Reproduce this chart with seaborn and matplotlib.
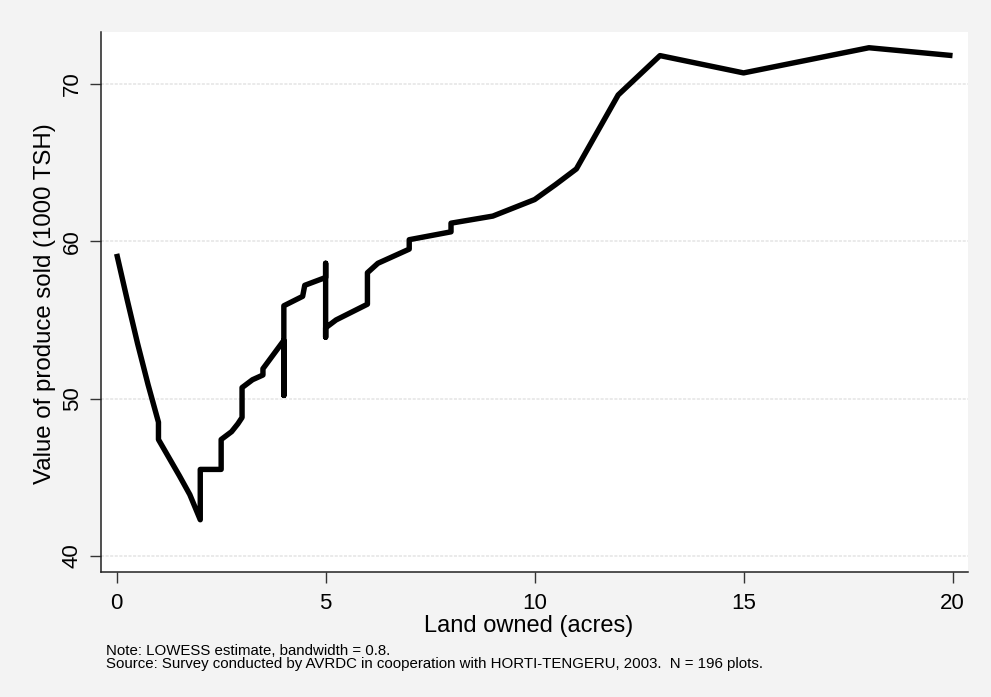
import pandas as pd
import matplotlib
matplotlib.use('Agg')
import matplotlib.pyplot as plt
import seaborn as sns

# LOWESS curve (tied x values give the vertical jumps)
land_acres = [0, 0.25, 0.5, 0.75, 1.0, 1.0, 1.5, 1.75, 2.0, 2.0, 2.5, 2.5,
              2.75, 2.9, 3.0, 3.0, 3.25, 3.5, 3.5, 4.0, 4.0, 4.0, 4.45, 4.5,
              5.0, 5.0, 5.0, 5.0, 5.25, 6.0, 6.0, 6.25, 7.0, 7.0, 8.0, 8.0,
              9.0, 10.0, 10.5, 11.0, 12.0, 13.0, 15.0, 18.0, 19.0, 20.0]
value_sold = [59.2, 56.3, 53.5, 50.9, 48.5, 47.4, 45.1, 43.9, 42.3, 45.5, 45.5, 47.4,
              47.9, 48.4, 48.8, 50.7, 51.2, 51.5, 51.9, 53.7, 50.2, 55.9, 56.5, 57.2,
              57.7, 58.6, 53.9, 54.5, 55.0, 56.0, 58.0, 58.6, 59.5, 60.1, 60.6, 61.15,
              61.6, 62.65, 63.6, 64.6, 69.3, 71.8, 70.7, 72.3, 72.05, 71.8]

x_ticks = [0, 5, 10, 15, 20]
y_ticks = [40, 50, 60, 70]

note_lines = ["Note: LOWESS estimate, bandwidth = 0.8.",
              "Source: Survey conducted by AVRDC in cooperation with HORTI-TENGERU, 2003.  N = 196 plots."]

df = pd.DataFrame({'land': land_acres, 'value': value_sold})

sns.set_style('white')
plt.rcParams['font.family'] = ['Liberation Sans', 'DejaVu Sans']

bg = '#f3f3f3'
fig = plt.figure(figsize=(9.91, 6.97), dpi=100, facecolor=bg)
ax = fig.add_axes([101 / 991, 1 - 572 / 697, 867 / 991, 540 / 697])
ax.set_facecolor('white')

# light dotted grid lines
for yv in y_ticks:
    ax.axhline(yv, color='#e4e4e4', lw=1.1, ls=(0, (2, 1)), zorder=0)

sns.lineplot(data=df, x='land', y='value', sort=False, estimator=None,
             color='black', lw=3.9, ax=ax)
for l in ax.lines:
    l.set_solid_joinstyle('round')
    l.set_solid_capstyle('butt')

ax.set_xlim(-0.375, 20.37)
ax.set_ylim(38.98, 73.3)
ax.set_xticks(x_ticks)
ax.set_yticks(y_ticks)
ax.tick_params(axis='both', which='major', length=8, width=1, color='#333333',
               labelsize=16, labelcolor='black', direction='out', bottom=True, left=True)
ax.tick_params(axis='x', pad=7)
ax.tick_params(axis='y', pad=5)
for t in ax.get_yticklabels():
    t.set_rotation(90)
    t.set_va('center')

for side in ['top', 'right']:
    ax.spines[side].set_visible(False)
for side in ['left', 'bottom']:
    ax.spines[side].set_color('#222222')
    ax.spines[side].set_linewidth(1.1)

ax.set_xlabel('Land owned (acres)', fontsize=17, color='black')
ax.set_ylabel('Value of produce sold (1000 TSH)', fontsize=17.3, color='black')
ax.xaxis.set_label_coords((529 - 101) / 867, (572 - 626) / 540)
ax.yaxis.set_label_coords((45 - 101) / 867, (572 - 304) / 540)
ax.xaxis.label.set_va('center')
ax.yaxis.label.set_va('center')

fig.text(106 / 991, 1 - 655 / 697, note_lines[0], fontsize=10.8, va='baseline', ha='left', color='black')
fig.text(106 / 991, 1 - 668 / 697, note_lines[1], fontsize=10.8, va='baseline', ha='left', color='black')

fig.savefig('out.png', dpi=100, facecolor=bg)
